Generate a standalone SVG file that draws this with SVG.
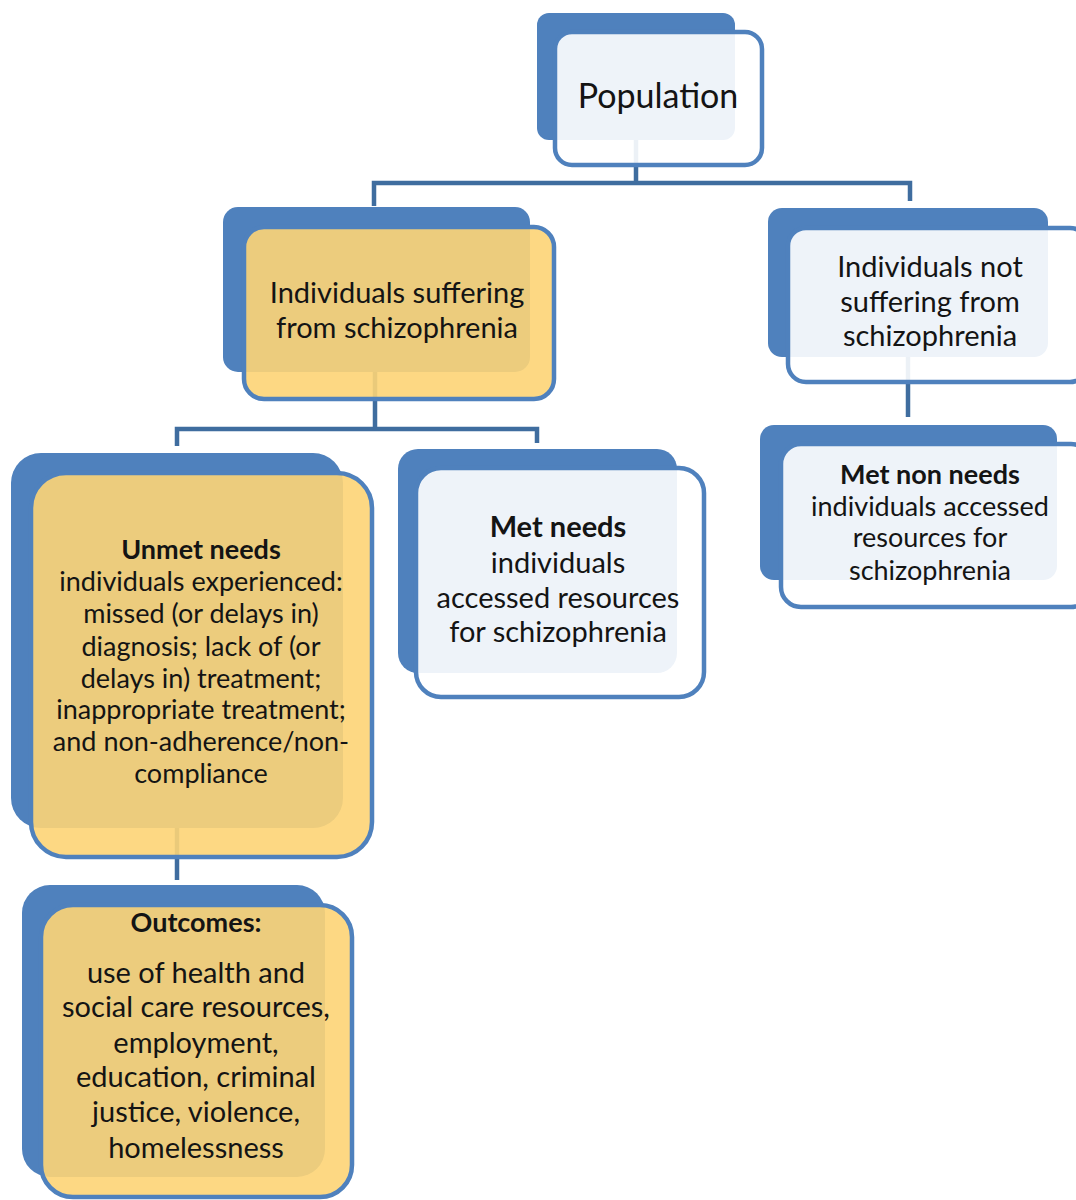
<svg xmlns="http://www.w3.org/2000/svg" width="1076" height="1200" viewBox="0 0 1076 1200">
<style>
.back{fill:#4F81BD;}
.fw{fill:#FFFFFF;fill-opacity:0.9;stroke:#4F81BD;stroke-width:4.5;}
.fy{fill:#FDD475;fill-opacity:0.9;stroke:#4F81BD;stroke-width:4.5;}
.conn{fill:none;stroke:#3F6D9F;stroke-width:4.5;}
text{font-family:Lato,"Open Sans","Liberation Sans",sans-serif;fill:#141414;text-anchor:middle;}
.t34{font-size:34px;}
.t28{font-size:29px;}
.t26{font-size:27px;}
.b{font-weight:bold;}
</style>
<rect width="1076" height="1200" fill="#FFFFFF"/>
<g id="connectors">
<path class="conn" d="M636,140 V183 M374,206 V183 H910 V201"/>
<path class="conn" d="M375,372 V429 M177,446 V429 H537 V443"/>
<path class="conn" d="M908,357 V417"/>
<path class="conn" d="M177,828 V880"/>
</g>
<g id="population">
<rect class="back" x="537" y="13" width="198" height="127" rx="12"/>
<rect class="fw" x="555" y="32" width="207" height="133" rx="17"/>
<text class="t34" x="658" y="108">Population</text>
</g>
<g id="suffering">
<rect class="back" x="223" y="207" width="307" height="165" rx="15"/>
<rect class="fy" x="244" y="227" width="310" height="172" rx="20"/>
<text class="t28" x="397" y="303">Individuals suffering</text>
<text class="t28" x="397" y="338">from  schizophrenia</text>
</g>
<g id="not-suffering">
<rect class="back" x="768" y="208" width="280" height="149" rx="14"/>
<rect class="fw" x="788" y="228" width="300" height="154" rx="18"/>
<text class="t28" x="930" y="277">Individuals not</text>
<text class="t28" x="930" y="312">suffering from</text>
<text class="t28" x="930" y="346">schizophrenia</text>
</g>
<g id="unmet">
<rect class="back" x="11" y="453" width="332" height="375" rx="30"/>
<rect class="fy" x="31" y="473" width="341" height="384" rx="35"/>
<text class="t26 b" x="201" y="559">Unmet needs</text>
<text class="t26" x="201" y="591">individuals experienced:</text>
<text class="t26" x="201" y="623">missed (or delays in)</text>
<text class="t26" x="201" y="656">diagnosis; lack of (or</text>
<text class="t26" x="201" y="688">delays in) treatment;</text>
<text class="t26" x="201" y="719">inappropriate treatment;</text>
<text class="t26" x="201" y="751">and non-adherence/non-</text>
<text class="t26" x="201" y="783">compliance</text>
</g>
<g id="met">
<rect class="back" x="398" y="449" width="279" height="224" rx="20"/>
<rect class="fw" x="416" y="468" width="288" height="229" rx="25"/>
<text class="t28 b" x="558" y="537">Met needs</text>
<text class="t28" x="558" y="573">individuals</text>
<text class="t28" x="558" y="608">accessed resources</text>
<text class="t28" x="558" y="642">for schizophrenia</text>
</g>
<g id="met-non">
<rect class="back" x="760" y="425" width="297" height="155" rx="14"/>
<rect class="fw" x="781" y="444" width="310" height="163" rx="20"/>
<text class="t26 b" x="930" y="484">Met non needs</text>
<text class="t26" x="930" y="516">individuals accessed</text>
<text class="t26" x="930" y="547">resources for</text>
<text class="t26" x="930" y="580">schizophrenia</text>
</g>
<g id="outcomes">
<rect class="back" x="22" y="885" width="303" height="292" rx="28"/>
<rect class="fy" x="41" y="905" width="311" height="292" rx="32"/>
<text class="t26 b" x="196" y="932">Outcomes:</text>
<text class="t28" x="196" y="983">use of health and</text>
<text class="t28" x="196" y="1017">social care resources,</text>
<text class="t28" x="196" y="1053">employment,</text>
<text class="t28" x="196" y="1087">education, criminal</text>
<text class="t28" x="196" y="1122">justice, violence,</text>
<text class="t28" x="196" y="1158">homelessness</text>
</g>
</svg>
